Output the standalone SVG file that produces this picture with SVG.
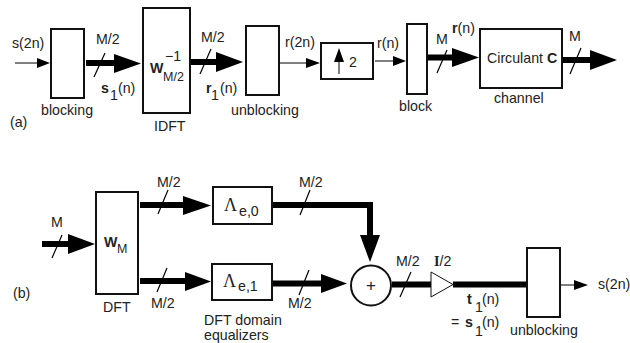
<svg xmlns="http://www.w3.org/2000/svg" width="630" height="343" viewBox="0 0 630 343">
<style>
text{font-family:"Liberation Sans",Arial,sans-serif;font-size:14.2px;fill:#222}
.b{font-weight:bold}
.g{font-family:"Liberation Serif","DejaVu Serif",serif}
.sub{font-size:12.5px}
.box{fill:#fff;stroke:#111;stroke-width:2}
.thick{fill:none;stroke:#000;stroke-width:6}
.thin{fill:none;stroke:#000;stroke-width:1}
.slash{fill:none;stroke:#000;stroke-width:1.2}
.head{fill:#000}
</style>
<rect width="630" height="343" fill="#fff"/>
<g id="connectors">
<path class="thin" d="M15 63H38"/><polygon class="head" points="37,58 50,63 37,68"/>
<path class="thick" d="M86 63H116"/><polygon class="head" points="114,54 141,63.500 114,73"/><path class="slash" d="M105 53L94 77"/>
<path class="thick" d="M191 62H218"/><polygon class="head" points="216,52 243,62 216,72"/><path class="slash" d="M211 49L200 74"/>
<path class="thin" d="M280 63H308"/><polygon class="head" points="306,58 320,63 306,68"/>
<path class="thin" d="M375 61H395"/><polygon class="head" points="393,56 406,61 393,66"/>
<path class="thick" d="M428 57.500H454"/><polygon class="head" points="452,48 479,57.500 452,67"/><path class="slash" d="M447 50L437 73"/>
<path class="thick" d="M563 60H592"/><polygon class="head" points="590,50 617,60 590,70"/><path class="slash" d="M581 48L570 74"/>
<path class="thick" d="M42 244H70"/><polygon class="head" points="68,234 95,244 68,254"/><path class="slash" d="M62 235L52 258"/>
<path class="thick" d="M140 205H185"/><polygon class="head" points="183,196 211,205.500 183,215"/><path class="slash" d="M168 190L158 214"/>
<path class="thick" d="M140 281H187"/><polygon class="head" points="185,272 211,281.500 185,291"/><path class="slash" d="M167 268L157 292"/>
<path class="thick" d="M273 205H370V237"/><polygon class="head" points="360,235 380,235 370,262"/><path class="slash" d="M310 190L300 215"/>
<path class="thick" d="M273 283.500H323"/><polygon class="head" points="321,274 347,283.500 321,293"/><path class="slash" d="M309 270L299 295"/>
<path class="thick" d="M392 284.500H432"/><path class="slash" d="M411 272L400 297"/>
<path class="thick" d="M453 284.500H527"/>
<path class="thin" d="M561 285H576"/><polygon class="head" points="574,280 588,285 574,290"/>
</g>
<g id="n-blocking"><rect class="box" x="51" y="29" width="33" height="69"/><text x="41" y="115">blocking</text></g>
<g id="n-idft"><rect class="box" x="143" y="8" width="47" height="105"/><text class="b" x="150" y="73">W</text><text class="sub" x="163" y="81">M/2</text><text x="165" y="61">−1</text><text x="154" y="131">IDFT</text></g>
<g id="n-unblocking1"><rect class="box" x="246" y="26" width="33" height="69"/><text x="231" y="115">unblocking</text></g>
<g id="n-up2"><rect class="box" x="321" y="43" width="52" height="36"/><path class="thin" d="M339 74V58"/><polygon class="head" points="339,48 344,62 334,62"/><text x="349" y="67">2</text></g>
<g id="n-block"><rect class="box" x="407" y="24" width="20" height="70"/><text x="399" y="111">block</text></g>
<g id="n-channel"><rect class="box" x="480" y="29" width="82" height="59"/><text x="487" y="63">Circulant <tspan class="b">C</tspan></text><text x="494" y="103">channel</text></g>
<g id="n-dft"><rect class="box" x="96" y="192" width="42" height="102"/><text class="b" x="104" y="247">W</text><text class="sub" x="117" y="253">M</text><text x="103" y="312">DFT</text></g>
<g id="n-le0"><rect class="box" x="213" y="187" width="59" height="37"/><text class="g" x="224" y="211" style="font-size:18px">Λ</text><text x="239" y="216">e,0</text></g>
<g id="n-le1"><rect class="box" x="212" y="264" width="60" height="36"/><text class="g" x="223" y="287" style="font-size:18px">Λ</text><text x="238" y="291">e,1</text></g>
<g id="n-sum"><circle cx="371" cy="285.500" r="20" fill="#fff" stroke="#111" stroke-width="2"/><text x="371" y="291" text-anchor="middle" style="font-size:17px">+</text></g>
<g id="n-amp"><polygon points="431,272 453,284.500 431,297" fill="#fff" stroke="#111" stroke-width="1"/></g>
<g id="n-unblocking2"><rect class="box" x="527" y="248" width="33" height="69"/><text x="510" y="335">unblocking</text></g>
<g id="labels">
<text x="12" y="48">s(2n)</text><text x="96" y="44">M/2</text><text x="101" y="93" class="b">s</text><text x="110" y="100">1</text><text x="118" y="93">(n)</text>
<text x="201" y="42">M/2</text><text x="206" y="93" class="b">r</text><text x="211" y="100">1</text><text x="220" y="93">(n)</text>
<text x="285" y="47">r(2n)</text><text x="377" y="48">r(n)</text><text x="436" y="44">M</text><text x="452" y="33"><tspan class="b">r</tspan>(n)</text><text x="569" y="41">M</text>
<text x="10" y="127">(a)</text>
<text x="51" y="227">M</text><text x="157" y="187">M/2</text><text x="299" y="187">M/2</text><text x="151" y="308">M/2</text><text x="288" y="308">M/2</text>
<text x="13" y="298">(b)</text><text x="204" y="325">DFT domain</text><text x="204" y="340">equalizers</text>
<text x="396" y="266">M/2</text><text x="434" y="266"><tspan class="g b">I</tspan>/2</text>
<text x="467" y="304" class="b">t</text><text x="475" y="312">1</text><text x="482" y="304">(n)</text>
<text x="451" y="327">=</text><text x="465" y="327" class="b">s</text><text x="475" y="336">1</text><text x="482" y="327">(n)</text>
<text x="598" y="289">s(2n)</text>
</g>
</svg>
